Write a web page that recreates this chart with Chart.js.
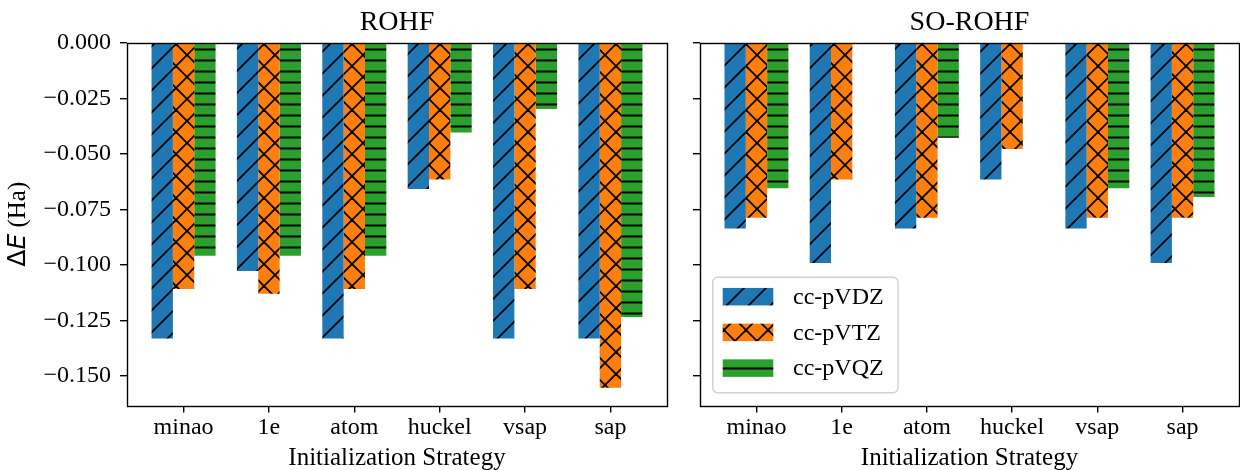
<!DOCTYPE html>
<html>
<head>
<meta charset="utf-8">
<script src="https://cdn.jsdelivr.net/npm/chart.js@4"></script>
<style>
  html, body { margin: 0; padding: 0; background: #fff; }
  #wrap { position: relative; width: 1240px; height: 470px; overflow: hidden; }
  canvas { position: absolute; top: 0; }
</style>
</head>
<body>
<div id="wrap">
  <canvas id="left" width="680" height="470" style="left:0"></canvas>
  <canvas id="right" width="560" height="470" style="left:680px"></canvas>
</div>
<script>
// Energy differences per initialization strategy
const categories = ['minao', '1e', 'atom', 'huckel', 'vsap', 'sap'];
const seriesNames = ['cc-pVDZ', 'cc-pVTZ', 'cc-pVQZ'];

const rohfDZ = [-0.1332, -0.1028, -0.1332, -0.0658, -0.1332, -0.1332];
const rohfTZ = [-0.1109, -0.1130, -0.1109, -0.0615, -0.1109, -0.1554];
const rohfQZ = [-0.0959, -0.0959, -0.0959, -0.0403, -0.0298, -0.1235];

const soDZ = [-0.0836, -0.0992, -0.0836, -0.0615, -0.0836, -0.0992];
const soTZ = [-0.0788, -0.0615, -0.0788, -0.0478, -0.0788, -0.0788];
const soQZ = [-0.0655, null, -0.0427, null, -0.0655, -0.0694];

const yTicks = [0, -0.025, -0.05, -0.075, -0.1, -0.125, -0.15];
const yMin = -0.1634, yMax = 0;
const xMin = -0.6625, xMax = 5.6625;

const serif = '"Liberation Serif", "Times New Roman", serif';
const colors = ['#1f77b4', '#ff7f0e', '#2ca02c'];

// hatch patterns like matplotlib's '/', 'x' and '--'
function makeHatch(color, kind) {
  const T = kind === '-' ? 11 : 22;
  const c = document.createElement('canvas');
  c.width = T; c.height = T;
  const g = c.getContext('2d');
  g.fillStyle = color;
  g.fillRect(0, 0, T, T);
  g.strokeStyle = '#000';
  g.fillStyle = '#000';
  g.lineWidth = 1.8;
  g.lineCap = 'square';
  if (kind === '-') {
    g.fillRect(0, 4.5, T, 2);
  } else {
    for (const k of [-T, 0, T]) {
      g.beginPath(); g.moveTo(k, T); g.lineTo(k + T, 0); g.stroke();
      if (kind === 'x') { g.beginPath(); g.moveTo(k, 0); g.lineTo(k + T, T); g.stroke(); }
    }
  }
  return g.createPattern(c, 'repeat');
}
const patterns = [makeHatch(colors[0], '/'), makeHatch(colors[1], 'x'), makeHatch(colors[2], '-')];

const framePlugin = {
  id: 'frame',
  afterDraw(chart, args, opts) {
    const ctx = chart.ctx, a = chart.chartArea;
    ctx.save();
    ctx.strokeStyle = '#000';
    ctx.lineWidth = 1.4;
    ctx.strokeRect(Math.round(a.left) + 0.5, Math.round(a.top) + 0.5,
      Math.round(a.right) - Math.round(a.left), Math.round(a.bottom) - Math.round(a.top));
    ctx.fillStyle = '#000';
    ctx.font = '28px ' + serif;
    ctx.textAlign = 'center';
    ctx.textBaseline = 'alphabetic';
    ctx.fillText(opts.title, (a.left + a.right) / 2, 29.5);
    ctx.restore();
  }
};

const yLabelPlugin = {
  id: 'ylab',
  afterDraw(chart) {
    const ctx = chart.ctx, a = chart.chartArea;
    const parts = [['\u0394', '25px "DejaVu Sans"'], ['E', 'italic 25px "DejaVu Sans"'], [' (Ha)', '25px ' + serif]];
    ctx.save();
    let total = 0;
    parts.forEach(p => { ctx.font = p[1]; total += ctx.measureText(p[0]).width; });
    ctx.translate(25, (a.top + a.bottom) / 2);
    ctx.rotate(-Math.PI / 2);
    ctx.fillStyle = '#000';
    ctx.textAlign = 'left';
    ctx.textBaseline = 'alphabetic';
    let x = -total / 2;
    parts.forEach(p => { ctx.font = p[1]; ctx.fillText(p[0], x, 0); x += ctx.measureText(p[0]).width; });
    ctx.restore();
  }
};

const legendPlugin = {
  id: 'hlegend',
  afterDraw(chart) {
    const ctx = chart.ctx, a = chart.chartArea;
    const bx = a.left + 12.7, by = 277.3, bw = 185.3, bh = 115.4;
    ctx.save();
    ctx.beginPath();
    ctx.roundRect(bx, by, bw, bh, 5);
    ctx.fillStyle = 'rgba(255,255,255,0.8)';
    ctx.fill();
    ctx.strokeStyle = '#d0d0d0';
    ctx.lineWidth = 1.4;
    ctx.stroke();
    seriesNames.forEach((name, i) => {
      const cy = 296.7 + i * 35.7;
      ctx.fillStyle = patterns[i];
      ctx.fillRect(a.left + 22.7, cy - 8.75, 50.6, 17.5);
      ctx.fillStyle = '#000';
      ctx.font = '24px ' + serif;
      ctx.textAlign = 'left';
      ctx.textBaseline = 'middle';
      ctx.fillText(name, a.left + 93, cy + 1);
    });
    ctx.restore();
  }
};

function makePanel(id, title, series, yWidth, padRight, showYLabels, extraPlugins) {
  const datasets = series.map((vals, s) => ({
    label: seriesNames[s],
    data: vals.map((v, i) => ({ x: i, y: v })),
    backgroundColor: patterns[s],
    borderWidth: 0,
    categoryPercentage: 0.75,
    barPercentage: 1.0
  }));
  return new Chart(document.getElementById(id), {
    type: 'bar',
    data: { datasets },
    plugins: [framePlugin, ...extraPlugins],
    options: {
      responsive: false,
      animation: false,
      devicePixelRatio: 1,
      layout: { padding: { top: 43, right: padRight, left: 0, bottom: 0 } },
      plugins: { legend: { display: false }, tooltip: { enabled: false }, frame: { title } },
      scales: {
        x: {
          type: 'linear', min: xMin, max: xMax, offset: false,
          afterBuildTicks: s => { s.ticks = categories.map((_, i) => ({ value: i })); },
          afterFit: s => { s.height = 64.5; },
          ticks: { callback: v => categories[v], font: { family: serif, size: 24 }, color: '#000', padding: 1, maxRotation: 0, autoSkip: false },
          grid: { offset: false, drawOnChartArea: false, drawTicks: true, tickLength: 7, color: '#000', lineWidth: 1.4 },
          border: { display: false },
          title: { display: true, text: 'Initialization Strategy', font: { family: serif, size: 25, lineHeight: 0.96 }, color: '#000', padding: 0 }
        },
        y: {
          min: yMin, max: yMax,
          afterBuildTicks: s => { s.ticks = yTicks.map(v => ({ value: v })); },
          afterFit: s => { s.width = yWidth; },
          ticks: {
            callback: v => showYLabels ? (v < 0 ? '\u2212' + Math.abs(v).toFixed(3) : v.toFixed(3)) : '',
            font: { family: serif, size: 24 }, color: '#000', padding: 9
          },
          grid: { drawOnChartArea: false, drawTicks: true, tickLength: 7, color: '#000', lineWidth: 1.4 },
          border: { display: false }
        }
      }
    }
  });
}

makePanel('left', 'ROHF', [rohfDZ, rohfTZ, rohfQZ], 127, 13, true, [yLabelPlugin]);
makePanel('right', 'SO-ROHF', [soDZ, soTZ, soQZ], 20, 1, false, [legendPlugin]);
</script>
</body>
</html>
